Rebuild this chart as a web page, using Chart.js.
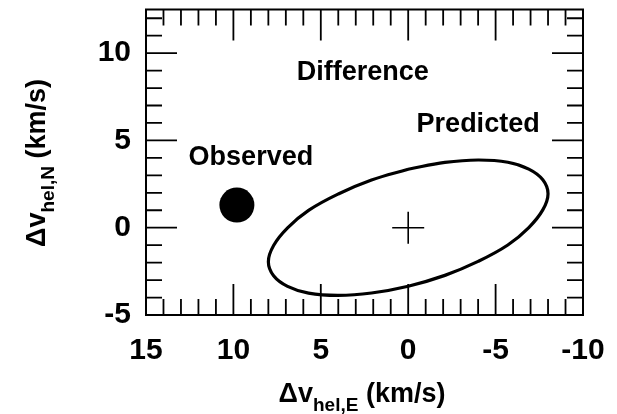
<!DOCTYPE html>
<html>
<head>
<meta charset="utf-8">
<script src="https://cdn.jsdelivr.net/npm/chart.js@4/dist/chart.umd.min.js"></script>
<style>
html,body{margin:0;padding:0;background:#fff;}
#wrap{width:617px;height:414px;}
</style>
</head>
<body>
<div id="wrap"><canvas id="c" width="617" height="414"></canvas></div>
<script>
// ---- data ----
const observedX = [9.8];
const observedY = [1.3];
const differenceX = [0];
const differenceY = [0];
const ellipseX = [0.0, -2.1, -4.0, -5.7, -6.9, -7.7, -8.0, -7.7, -6.9, -5.7, -4.0, -2.1, 0.0, 2.1, 4.0, 5.7, 6.9, 7.7, 8.0, 7.7, 6.9, 5.7, 4.0, 2.1, 0.0];
const ellipseY = [3.35, 3.74, 3.88, 3.75, 3.36, 2.75, 1.95, 1.02, 0.01, -0.99, -1.93, -2.73, -3.35, -3.74, -3.88, -3.75, -3.36, -2.75, -1.95, -1.02, -0.01, 0.99, 1.93, 2.73, 3.35];
const labelTexts = ['Difference', 'Predicted', 'Observed'];
const labelX = [2.6, -4.0, 9.0];
const labelY = [8.9, 5.9, 4.0];
const xTickLabels = [15, 10, 5, 0, -5, -10];
const yTickLabels = [-5, 0, 5, 10];
const xRange = [-10, 15];
const yRange = [-5, 12.5];
const minorStep = 1;
const majorStep = 5;

const FONT = '"Liberation Sans", Arial, Helvetica, sans-serif';

const toPts = (xs, ys) => xs.map((v, i) => ({x: v, y: ys[i]}));

const framePlugin = {
  id: 'frameTicks',
  afterDatasetsDraw(chart) {
    const {ctx, chartArea: a, scales: {x, y}} = chart;
    ctx.save();
    ctx.strokeStyle = '#000';
    ctx.lineCap = 'butt';
    ctx.lineWidth = 1.8;
    const minorLen = 16, majorLen = 31;
    for (let v = xRange[0]; v <= xRange[1]; v += minorStep) {
      const px = x.getPixelForValue(v);
      const len = (v % majorStep === 0) ? majorLen : minorLen;
      ctx.beginPath();
      ctx.moveTo(px, a.bottom); ctx.lineTo(px, a.bottom - len);
      ctx.moveTo(px, a.top); ctx.lineTo(px, a.top + len);
      ctx.stroke();
    }
    for (let v = Math.ceil(yRange[0]); v <= yRange[1]; v += minorStep) {
      const py = y.getPixelForValue(v);
      const len = (v % majorStep === 0) ? majorLen : minorLen;
      ctx.beginPath();
      ctx.moveTo(a.left, py); ctx.lineTo(a.left + len, py);
      ctx.moveTo(a.right, py); ctx.lineTo(a.right - len, py);
      ctx.stroke();
    }
    ctx.lineWidth = 2;
    ctx.strokeRect(a.left, a.top, a.right - a.left, a.bottom - a.top);

    // annotations
    ctx.fillStyle = '#000';
    ctx.font = 'bold 27px ' + FONT;
    ctx.textAlign = 'center';
    ctx.textBaseline = 'middle';
    labelTexts.forEach((t, i) => {
      ctx.fillText(t, x.getPixelForValue(labelX[i]), y.getPixelForValue(labelY[i]));
    });

    // axis titles with subscripts
    const drawTitle = (main, sub, rest, cx, by) => {
      const mf = 'bold 27px ' + FONT, sf = 'bold 19px ' + FONT;
      ctx.font = mf; const w1 = ctx.measureText(main).width; const w3 = ctx.measureText(rest).width;
      ctx.font = sf; const w2 = ctx.measureText(sub).width;
      let sx = cx - (w1 + w2 + w3) / 2;
      ctx.textAlign = 'left'; ctx.textBaseline = 'alphabetic';
      ctx.font = mf; ctx.fillText(main, sx, by); sx += w1;
      ctx.font = sf; ctx.fillText(sub, sx, by + 9); sx += w2;
      ctx.font = mf; ctx.fillText(rest, sx, by);
    };
    drawTitle('\u0394v', 'hel,E', ' (km/s)', 362, 402);
    ctx.save();
    ctx.translate(45, 163);
    ctx.rotate(-Math.PI / 2);
    drawTitle('\u0394v', 'hel,N', ' (km/s)', 0, 0);
    ctx.restore();
    ctx.restore();
  }
};

new Chart(document.getElementById('c'), {
  type: 'scatter',
  data: {
    datasets: [
      {
        label: 'Predicted',
        data: toPts(ellipseX, ellipseY),
        showLine: true,
        tension: 0.4,
        borderColor: '#000',
        borderWidth: 3.2,
        pointRadius: 0,
        fill: false
      },
      {
        label: 'Difference',
        data: toPts(differenceX, differenceY),
        pointStyle: 'cross',
        pointRadius: 16,
        borderColor: '#000',
        borderWidth: 1.6
      },
      {
        label: 'Observed',
        data: toPts(observedX, observedY),
        pointStyle: 'circle',
        pointRadius: 17.5,
        backgroundColor: '#000',
        borderColor: '#000',
        borderWidth: 0
      }
    ]
  },
  options: {
    responsive: false,
    animation: false,
    events: [],
    layout: {autoPadding: false, padding: {top: 9.5, right: 34, left: 0, bottom: 0}},
    plugins: {legend: {display: false}, tooltip: {enabled: false}},
    scales: {
      x: {
        type: 'linear',
        reverse: true,
        min: xRange[0], max: xRange[1],
        afterFit: s => { s.height = 99; s.paddingLeft = 0; s.paddingRight = 0; },
        afterBuildTicks: s => { s.ticks = xTickLabels.map(v => ({value: v})); },
        grid: {display: false, drawTicks: false},
        border: {display: false},
        ticks: {color: '#000', padding: 18, font: {family: FONT, size: 30, weight: 'bold'}, maxRotation: 0}
      },
      y: {
        type: 'linear',
        min: yRange[0], max: yRange[1],
        afterFit: s => { s.width = 146; s.paddingTop = 0; s.paddingBottom = 0; },
        afterBuildTicks: s => { s.ticks = yTickLabels.map(v => ({value: v})); },
        grid: {display: false, drawTicks: false},
        border: {display: false},
        ticks: {color: '#000', padding: 15, font: {family: FONT, size: 30, weight: 'bold', lineHeight: 0.5}}
      }
    }
  },
  plugins: [framePlugin]
});
</script>
</body>
</html>
